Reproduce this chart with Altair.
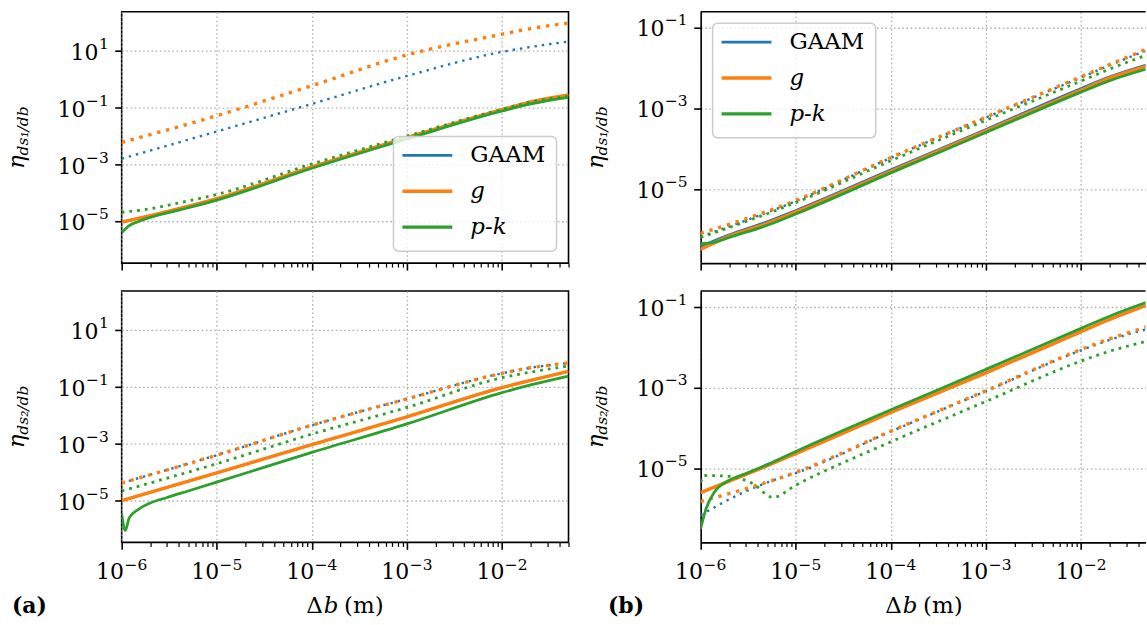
import altair as alt
import pandas as pd

BLUE, ORANGE, GREEN = "#1f77b4", "#ff7f0e", "#2ca02c"
SERIF = "DejaVu Serif"

# ---------------------------------------------------------------------------
# Curves: step size Δb (m) against the efficiency η for each model
# ---------------------------------------------------------------------------
X7 = [1e-6, 1e-5, 1e-4, 1e-3, 1e-2, 2e-2, 5e-2]

# (a) top: η_ds1/db
A1_X = [1e-6, 2e-6, 4e-6, 1e-5, 1e-4, 1e-3, 1e-2, 2e-2, 5e-2]
A1_GAAM_SOLID = [9.5e-6, 1.6e-5, 2.8e-5, 6.3e-5, 8.3e-4, 8.9e-3, 8.5e-2, 0.16, 0.28]
A1_G_SOLID = [9.5e-6, 1.6e-5, 2.8e-5, 6.3e-5, 8.3e-4, 8.9e-3, 8.5e-2, 0.16, 0.28]
A1_PK_SOLID_X = [1e-6, 1.2e-6, 1.5e-6, 2e-6, 4e-6, 1e-5, 1e-4, 1e-3, 1e-2, 2e-2, 5e-2]
A1_PK_SOLID = [4.0e-6, 7.1e-6, 1.0e-5, 1.4e-5, 2.5e-5, 5.6e-5, 7.4e-4, 7.9e-3, 7.6e-2, 0.135, 0.23]
A1_GAAM_DOT = [1.6e-3, 1.45e-2, 0.135, 1.3, 9.1, 13.5, 21.0]
A1_G_DOT = [6.0e-3, 5.2e-2, 0.59, 7.1, 38.0, 60.0, 93.0]
A1_PK_DOT = [2.1e-5, 2.8e-5, 4.5e-5, 8.9e-5, 1.05e-3, 1.0e-2, 8.9e-2, 0.16, 0.25]

# (a) bottom: η_ds2/db
A2_GAAM_SOLID = [1.0e-5, 9.5e-5, 9.3e-4, 8.9e-3, 9.5e-2, 0.17, 0.35]
A2_G_SOLID = [1.0e-5, 9.5e-5, 9.3e-4, 8.9e-3, 9.5e-2, 0.17, 0.35]
A2_PK_SOLID_X = [1e-6, 1.09e-6, 1.2e-6, 1.5e-6, 2e-6, 3e-6, 5e-6, 1e-5, 1e-4, 1e-3, 1e-2, 2e-2, 5e-2]
A2_PK_SOLID = [3.5e-6, 8.9e-7, 2.5e-6, 5.0e-6, 8.3e-6, 1.3e-5, 2.2e-5, 4.5e-5, 5.0e-4, 5.0e-3, 6.3e-2, 0.117, 0.24]
A2_GAAM_DOT = [4.2e-5, 4.0e-4, 4.5e-3, 3.8e-2, 0.30, 0.47, 0.69]
A2_G_DOT = [4.2e-5, 4.0e-4, 4.5e-3, 3.8e-2, 0.30, 0.47, 0.69]
A2_PK_DOT = [2.2e-5, 2.0e-4, 2.2e-3, 1.9e-2, 0.21, 0.33, 0.54]

# (b) top: η_ds1/db
B_X9 = [1e-6, 2e-6, 5e-6, 1e-5, 1e-4, 1e-3, 1e-2, 2e-2, 5e-2]
B1_GAAM_SOLID = [3.8e-7, 7.4e-7, 1.55e-6, 2.95e-6, 3.0e-5, 3.0e-4, 3.1e-3, 6.0e-3, 1.2e-2]
B1_G_SOLID = [3.2e-7, 6.8e-7, 1.4e-6, 2.7e-6, 2.75e-5, 2.75e-4, 2.8e-3, 5.6e-3, 1.1e-2]
B1_PK_SOLID_X = [1e-6, 1.5e-6, 2e-6, 5e-6, 1e-5, 1e-4, 1e-3, 1e-2, 2e-2, 5e-2]
B1_PK_SOLID = [4.4e-7, 5.0e-7, 6.3e-7, 1.26e-6, 2.4e-6, 2.5e-5, 2.5e-4, 2.5e-3, 4.8e-3, 9.5e-3]
B1_GAAM_DOT = [6.6e-7, 5.0e-6, 5.9e-5, 5.9e-4, 5.75e-3, 1.15e-2, 2.75e-2]
B1_G_DOT = [7.9e-7, 5.2e-6, 6.0e-5, 6.0e-4, 6.0e-3, 1.2e-2, 2.95e-2]
B1_PK_DOT = [6.3e-7, 4.6e-6, 5.0e-5, 5.0e-4, 4.7e-3, 9.3e-3, 2.1e-2]

# (b) bottom: η_ds2/db
B2_GAAM_SOLID = [2.5e-6, 4.8e-6, 1.15e-5, 2.3e-5, 2.4e-4, 2.3e-3, 2.4e-2, 4.8e-2, 0.11]
B2_G_SOLID = [2.5e-6, 4.8e-6, 1.15e-5, 2.3e-5, 2.4e-4, 2.3e-3, 2.4e-2, 4.8e-2, 0.11]
B2_PK_SOLID_X = [1e-6, 1.14e-6, 1.4e-6, 1.95e-6, 2.9e-6, 5.3e-6, 1e-5, 1e-4, 1e-3, 1e-2, 2e-2, 5e-2]
B2_PK_SOLID = [3.2e-7, 1.0e-6, 2.6e-6, 4.9e-6, 7.2e-6, 1.3e-5, 2.6e-5, 2.8e-4, 2.8e-3, 2.9e-2, 5.8e-2, 0.13]
B2_GAAM_DOT_X = [1e-6, 3e-6, 5.8e-6, 1e-5, 1e-4, 1e-3, 1e-2, 2e-2, 5e-2]
B2_GAAM_DOT = [6.9e-7, 2.7e-6, 5.0e-6, 7.6e-6, 8.1e-5, 8.1e-4, 8.3e-3, 1.5e-2, 2.8e-2]
B2_G_DOT = [1.5e-6, 7.9e-6, 8.3e-5, 8.3e-4, 8.7e-3, 1.6e-2, 3.2e-2]
B2_PK_DOT_X = [1e-6, 1.1e-6, 2e-6, 3.5e-6, 5.8e-6, 1e-5, 1e-4, 1e-3, 1e-2, 2e-2, 5e-2]
B2_PK_DOT = [4.5e-6, 6.6e-6, 6.3e-6, 4.2e-6, 1.9e-6, 3.8e-6, 4.5e-5, 4.5e-4, 4.5e-3, 7.9e-3, 1.4e-2]

CURVES = {
    "a1": [("GAAM", "solid", A1_X, A1_GAAM_SOLID), ("GAAM", "dot", X7, A1_GAAM_DOT),
           ("g", "solid", A1_X, A1_G_SOLID), ("g", "dot", X7, A1_G_DOT),
           ("p-k", "solid", A1_PK_SOLID_X, A1_PK_SOLID), ("p-k", "dot", A1_X, A1_PK_DOT)],
    "a2": [("GAAM", "solid", X7, A2_GAAM_SOLID), ("GAAM", "dot", X7, A2_GAAM_DOT),
           ("g", "solid", X7, A2_G_SOLID), ("g", "dot", X7, A2_G_DOT),
           ("p-k", "solid", A2_PK_SOLID_X, A2_PK_SOLID), ("p-k", "dot", X7, A2_PK_DOT)],
    "b1": [("GAAM", "solid", B_X9, B1_GAAM_SOLID), ("GAAM", "dot", X7, B1_GAAM_DOT),
           ("g", "solid", B_X9, B1_G_SOLID), ("g", "dot", X7, B1_G_DOT),
           ("p-k", "solid", B1_PK_SOLID_X, B1_PK_SOLID), ("p-k", "dot", X7, B1_PK_DOT)],
    "b2": [("GAAM", "solid", B_X9, B2_GAAM_SOLID), ("GAAM", "dot", B2_GAAM_DOT_X, B2_GAAM_DOT),
           ("g", "solid", B_X9, B2_G_SOLID), ("g", "dot", X7, B2_G_DOT),
           ("p-k", "solid", B2_PK_SOLID_X, B2_PK_SOLID), ("p-k", "dot", B2_PK_DOT_X, B2_PK_DOT)],
}

rows = []
for pan, curves in CURVES.items():
    for model, style, xs, ys in curves:
        for x, y in zip(xs, ys):
            rows.append({"key": f"{pan}|{model}|{style}", "x": x, "y": y})
df = pd.DataFrame(rows)

STYLE = {
    ("GAAM", "solid"): dict(color=BLUE, strokeWidth=2.4),
    ("GAAM", "dot"): dict(color=BLUE, strokeWidth=2.4, strokeDash=[2.4, 5.0]),
    ("g", "solid"): dict(color=ORANGE, strokeWidth=3.4),
    ("g", "dot"): dict(color=ORANGE, strokeWidth=3.4, strokeDash=[3.4, 5.8]),
    ("p-k", "solid"): dict(color=GREEN, strokeWidth=2.8),
    ("p-k", "dot"): dict(color=GREEN, strokeWidth=2.8, strokeDash=[2.8, 5.0]),
}

LEGEND = [("GAAM", BLUE, 2.6, "normal"), ("g", ORANGE, 3.6, "italic"), ("p-k", GREEN, 3.2, "italic")]

# ---------------------------------------------------------------------------
# Axes: log scales; decade labels are written as 10 with a raised exponent
# ---------------------------------------------------------------------------
X_MIN, XA_MAX, XB_MAX = 1e-6, 5e-2, 0.0476
X_DECADES = [1e-6, 1e-5, 1e-4, 1e-3, 1e-2]
X_EXPONENTS = ["−6", "−5", "−4", "−3", "−2"]
X_TICKS = sorted(m * d for d in X_DECADES for m in range(1, 10))
YA_DOMAIN = [3.44e-7, 233.0]
YB_DOMAIN = [1.46e-7, 0.243]
YA_TICKS = [1e1, 1e-1, 1e-3, 1e-5]
YA_EXPONENTS = ["1", "−1", "−3", "−5"]
YB_TICKS = [1e-1, 1e-3, 1e-5]
YB_EXPONENTS = ["−1", "−3", "−5"]

LOG10 = "(log(datum.value)/LN10)"
IS_MAJOR = f"abs({LOG10} - round({LOG10})) < 0.01"

W_A, W_B, H = 448, 446, 252
BASE_SIZE, SUP_SIZE = 22, 15.5
EM_DIGIT, EM_MINUS = 0.636, 0.838  # DejaVu Serif advance widths


def sup_width(exp):
    return sum((EM_MINUS if ch == "−" else EM_DIGIT) for ch in exp) * SUP_SIZE


def axis_common(domain):
    return dict(
        labels=False, tickColor="black", grid=True, gridColor="#b0b0b0",
        gridDash=[1.6, 2.6], gridWidth=1.3, domain=domain, domainColor="black",
        domainWidth=1.6, title=None,
    )


def x_axis(xmax, domain):
    return alt.Axis(
        values=[t for t in X_TICKS if t <= xmax * 1.0001],
        tickSize={"condition": {"test": IS_MAJOR, "value": 7}, "value": 4},
        tickWidth={"condition": {"test": IS_MAJOR, "value": 1.6}, "value": 1.2},
        gridOpacity={"condition": {"test": IS_MAJOR, "value": 1}, "value": 0},
        **axis_common(domain),
    )


def y_axis(ticks, domain):
    return alt.Axis(values=ticks, tickSize=7, tickWidth=1.6, **axis_common(domain))


one = pd.DataFrame({"k": [0]})


def text(txt, x, y, size, style="normal", weight="normal", angle=0, align="left",
         baseline="middle"):
    return alt.Chart(one).mark_text(
        text=txt, font=SERIF, fontSize=size, fontStyle=style, fontWeight=weight,
        angle=angle, align=align, baseline=baseline, color="black",
    ).encode(x=alt.value(x), y=alt.value(y))


def panel(pan, width, xmax, ydom, yticks, yexps, bottom, framed, legend_at, sub, tag):
    xenc = alt.X("x:Q", scale=alt.Scale(type="log", domain=[X_MIN, xmax], nice=False),
                 axis=x_axis(xmax, not framed))
    yenc = alt.Y("y:Q", scale=alt.Scale(type="log", domain=ydom, nice=False),
                 axis=y_axis(yticks, not framed))
    base = alt.Chart(df).encode(x=xenc, y=yenc)
    layers = []
    for model, style, _, _ in CURVES[pan]:
        layers.append(
            base.transform_filter(alt.datum.key == f"{pan}|{model}|{style}")
            .mark_line(interpolate="monotone", clip=True, strokeCap="butt",
                       **STYLE[(model, style)])
        )
    if not framed:
        layers.append(alt.Chart(one).mark_rule(color="black", strokeWidth=1.6).encode(
            x=alt.value(0), x2=alt.value(width), y=alt.value(0)))

    # y tick labels: right-aligned block "10" + exponent, one layer per exponent width
    for val, exp in zip(yticks, yexps):
        lab = pd.DataFrame({"y": [val], "e": [exp]})
        right = -13
        layers.append(alt.Chart(lab).mark_text(
            font=SERIF, fontSize=SUP_SIZE, align="right", baseline="middle", dy=-7,
            color="black").encode(y=yenc, x=alt.value(right), text="e:N"))
        layers.append(alt.Chart(lab).mark_text(
            text="10", font=SERIF, fontSize=BASE_SIZE, align="right", baseline="middle",
            dy=2, color="black").encode(y=yenc, x=alt.value(right - sup_width(exp) - 0.5)))
    # x tick labels, bottom row only: centred "10" + exponent
    if bottom:
        lab = pd.DataFrame({"x": X_DECADES, "e": X_EXPONENTS})
        w10 = 2 * EM_DIGIT * BASE_SIZE
        total = w10 + sup_width("−6") + 0.5
        layers.append(alt.Chart(lab).mark_text(
            font=SERIF, fontSize=SUP_SIZE, align="left", baseline="middle",
            dx=-total / 2 + w10 + 0.5, color="black").encode(
                x=xenc, y=alt.value(H + 23), text="e:N"))
        layers.append(alt.Chart(lab).mark_text(
            text="10", font=SERIF, fontSize=BASE_SIZE, align="left", baseline="middle",
            dx=-total / 2, color="black").encode(x=xenc, y=alt.value(H + 30)))

    if legend_at is not None:
        bx, by = legend_at
        layers.append(alt.Chart(one).mark_rect(
            fill="white", fillOpacity=0.8, stroke="#cccccc", strokeWidth=1.5, cornerRadius=5,
        ).encode(x=alt.value(bx), x2=alt.value(bx + 163.5), y=alt.value(by),
                 y2=alt.value(by + 115)))
        for i, (name, col, lw, fs) in enumerate(LEGEND):
            ry = by + 19 + 36 * i
            layers.append(alt.Chart(one).mark_rule(color=col, strokeWidth=lw).encode(
                x=alt.value(bx + 9), x2=alt.value(bx + 59), y=alt.value(ry)))
            layers.append(text(name, bx + 77, ry, 23, style=fs))
    # y-axis title: η with a subscript
    cy = H / 2
    layers.append(text("η", -97.5, cy + 31.7, 23, style="italic", angle=270,
                       baseline="alphabetic"))
    layers.append(text(sub, -94.0, cy + 18.0, 15.5, style="italic", angle=270,
                       baseline="alphabetic"))
    if bottom:
        cx = 224
        layers.append(text("Δ", cx - 39, H + 64, 23))
        layers.append(text("b", cx - 21.5, H + 64, 23, style="italic"))
        layers.append(text("(m)", cx - 1, H + 64, 23))
        layers.append(text(tag, -110 if tag == "(a)" else -93, H + 64, 22, weight="bold"))
    if pan == "a1":
        # invisible anchor fixing the offset of the plot area on the page
        layers.append(alt.Chart(one).mark_rule(opacity=0, strokeWidth=0).encode(
            x=alt.value(-120.5), x2=alt.value(-120), y=alt.value(-9.3)))
    ch = alt.layer(*layers).properties(width=width, height=H)
    if not framed:
        ch = ch.properties(view=alt.ViewBackground(stroke=None))
    return ch


a1 = panel("a1", W_A, XA_MAX, YA_DOMAIN, YA_TICKS, YA_EXPONENTS, False, True, (272.5, 125),
           "ds₁/db", None)
b1 = panel("b1", W_B, XB_MAX, YB_DOMAIN, YB_TICKS, YB_EXPONENTS, False, False, (12, 11.4),
           "ds₁/db", None)
a2 = panel("a2", W_A, XA_MAX, YA_DOMAIN, YA_TICKS, YA_EXPONENTS, True, True, None,
           "ds₂/db", "(a)")
b2 = panel("b2", W_B, XB_MAX, YB_DOMAIN, YB_TICKS, YB_EXPONENTS, True, False, None,
           "ds₂/db", "(b)")

chart = (
    alt.concat(a1, b1, a2, b2, columns=2, spacing={"row": 28, "column": 132.5}, bounds="flush")
    .properties(padding=0, background="white")
    .configure_view(stroke="black", strokeWidth=1.6)
)

chart.save("out.html", embed_options={"renderer": "svg", "actions": False})
